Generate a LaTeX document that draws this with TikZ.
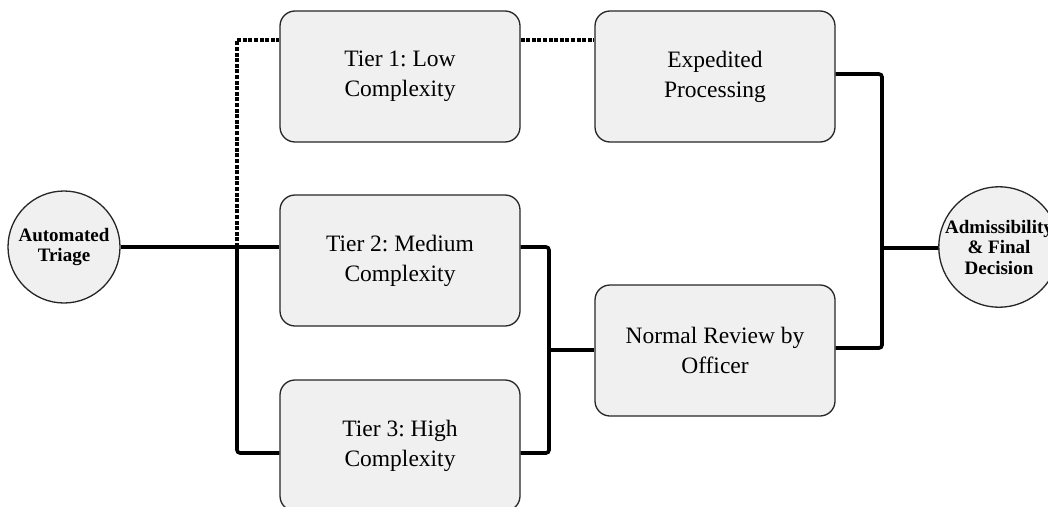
\documentclass[tikz,border=0pt]{standalone}
\usepackage{fontspec}
\setmainfont{Liberation Serif}
\frenchspacing
\begin{document}
\begin{tikzpicture}[x=1pt,y=-1pt,
  box/.style={draw=black!85, line width=1.3pt, fill=boxgray, rounded corners=15pt,
    minimum width=240pt, minimum height=131pt, align=center, inner sep=0pt,
    font=\fontsize{23.5}{30}\selectfont},
  endpt/.style={circle, draw=black!85, line width=1.3pt, fill=boxgray, minimum size=112pt,
    inner sep=0pt, align=center, font=\bfseries\fontsize{19}{20.5}\selectfont},
  conn/.style={line width=3.6pt, rounded corners=3pt},
  dconn/.style={line width=3.6pt, dash pattern=on 4pt off 1.6pt},
]
\definecolor{boxgray}{HTML}{F0F0F0}
\useasboundingbox (0,0) rectangle (1048,506);
\node[endpt] (tri) at (64,247) {Automated\\Triage};
\node[endpt] (adm) at (999,247) {Admissibility\\\& Final\\Decision};
\node[box] (t1) at (400,76.5) {Tier 1: Low\\Complexity};
\node[box] (t2) at (400,260.5) {Tier 2: Medium\\Complexity};
\node[box] (t3) at (400,445.5) {Tier 3: High\\Complexity};
\node[box] (ex) at (715,76.5) {Expedited\\Processing};
\node[box] (nr) at (715,350.5) {Normal Review by\\Officer};
\coordinate (j1) at (237,247);
\coordinate (j1t) at (237,40);
\coordinate (j1b) at (237,453);
\coordinate (j2) at (549,350);
\coordinate (j3) at (882,248);
% triage connections
\draw[conn] (tri.east) -- (t2.west |- tri.east);
\draw[conn] (j1) -- (j1b) -- (t3.west |- j1b);
\draw[dconn] (j1) -- (j1t) -- (t1.west |- j1t);
\draw[dconn] (t1.east |- j1t) -- (ex.west |- j1t);
% tier 2/3 to normal review
\draw[conn] (t2.east |- j1) -- (j2 |- j1) -- (j2 |- j1b) -- (t3.east |- j1b);
\draw[conn] (j2) -- (nr.west |- j2);
% to admissibility
\draw[conn] (ex.east |- 0,74) -- (j3 |- 0,74) -- (j3 |- 0,348) -- (nr.east |- 0,348);
\draw[conn] (j3) -- (adm.west |- j3);
\end{tikzpicture}
\end{document}
